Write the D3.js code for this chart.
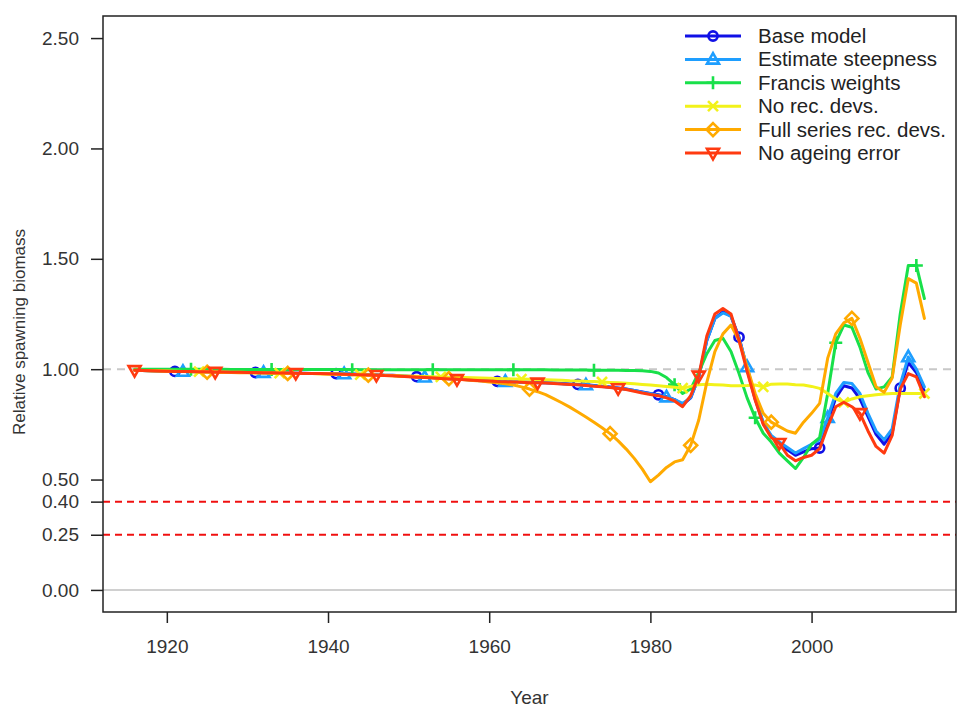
<!DOCTYPE html>
<html>
<head>
<meta charset="utf-8">
<script src="https://cdn.jsdelivr.net/npm/d3@7"></script>
<style>
  html, body { margin: 0; padding: 0; background: #fff; }
  svg { display: block; }
  text { font-family: "Liberation Sans", Arial, sans-serif; }
</style>
</head>
<body>
<svg id="chart" width="958" height="712"></svg>
<script>
// ---------------- DATA ----------------
const firstYear = 1916;
const lastYear = 2014;

const seriesNames = ["Base model", "Estimate steepness", "Francis weights",
  "No rec. devs.", "Full series rec. devs.", "No ageing error"];

const baseModel = [
  .995,.994,.993,.992,.991,.990,.989,.989,.988,.988,
  .987,.987,.986,.986,.985,.985,.984,.984,.983,.983,
  .982,.982,.981,.981,.980,.980,.979,.978,.977,.976,
  .975,.973,.972,.970,.968,.966,.964,.962,.960,.958,
  .956,.954,.951,.949,.947,.945,.944,.943,.942,.941,
  .940,.939,.937,.935,.933,.931,.929,.926,.923,.919,
  .915,.910,.904,.897,.890,.884,.875,.862,.840,.870,
  .965,1.13,1.23,1.26,1.24,1.145,1.00,.865,.755,.695,
  .665,.635,.61,.625,.64,.643,.76,.87,.925,.915,
  .865,.785,.705,.66,.71,.914,1.03,.985,.90];

const estimateSteepness = [
  .995,.994,.993,.992,.991,.990,.989,.989,.988,.988,
  .987,.987,.986,.986,.985,.985,.984,.984,.983,.983,
  .982,.981,.981,.980,.980,.979,.978,.977,.976,.975,
  .974,.972,.971,.969,.967,.965,.963,.961,.959,.957,
  .955,.953,.950,.948,.946,.944,.943,.942,.941,.940,
  .939,.938,.936,.934,.932,.930,.928,.925,.922,.918,
  .914,.909,.903,.896,.889,.882,.873,.862,.845,.872,
  .962,1.13,1.23,1.255,1.24,1.14,1.01,.87,.76,.70,
  .67,.645,.62,.64,.66,.68,.78,.89,.94,.935,
  .89,.80,.72,.68,.73,.93,1.055,1.0,.92];

const francisWeights = [
  1.000,1.000,1.000,1.000,1.000,1.000,1.000,1.000,1.000,1.000,
  1.000,1.000,.999,.999,.999,.999,.999,.999,.999,.999,
  .999,.999,.999,.999,.999,.999,.999,.998,.998,.998,
  .998,.998,.998,.998,.998,.998,.998,.998,.998,.998,
  .998,.998,.998,.997,.997,.997,.997,.997,.997,.997,
  .997,.997,.996,.996,.996,.996,.996,.995,.995,.995,
  .995,.994,.994,.993,.990,.983,.962,.930,.890,.910,
  .985,1.07,1.13,1.14,1.08,.98,.87,.78,.71,.67,
  .62,.585,.55,.60,.66,.69,.89,1.12,1.20,1.19,
  1.10,.985,.91,.92,.965,1.25,1.47,1.47,1.32];

const noRecDevs = [
  .995,.994,.993,.993,.992,.991,.990,.990,.989,.988,
  .988,.987,.986,.986,.985,.984,.984,.983,.982,.982,
  .981,.980,.980,.979,.978,.978,.977,.976,.975,.974,
  .973,.972,.971,.970,.969,.968,.967,.966,.965,.964,
  .963,.962,.961,.960,.959,.958,.957,.956,.955,.954,
  .953,.952,.951,.950,.948,.947,.945,.944,.942,.940,
  .938,.936,.934,.931,.928,.925,.922,.918,.914,.922,
  .930,.932,.930,.928,.925,.925,.926,.928,.920,.932,
  .933,.933,.930,.928,.922,.913,.890,.865,.850,.865,
  .875,.880,.884,.888,.890,.890,.890,.890,.890];

const fullSeriesRecDevs = [
  .995,.994,.993,.992,.991,.990,.989,.988,.987,.986,
  .986,.985,.985,.984,.984,.983,.983,.982,.982,.981,
  .981,.980,.980,.979,.978,.977,.976,.975,.974,.973,
  .972,.971,.970,.968,.967,.965,.963,.961,.959,.957,
  .955,.952,.949,.946,.942,.938,.934,.928,.920,.910,
  .898,.885,.867,.848,.828,.806,.783,.760,.735,.708,
  .675,.638,.596,.547,.490,.520,.555,.580,.590,.655,
  .77,.94,1.08,1.16,1.20,1.13,1.01,.89,.80,.76,
  .74,.72,.71,.76,.80,.845,1.05,1.16,1.21,1.23,
  1.14,1.03,.92,.895,.96,1.20,1.41,1.39,1.23];

const noAgeingError = [
  .995,.994,.993,.992,.991,.990,.989,.989,.988,.988,
  .987,.987,.986,.986,.985,.985,.984,.984,.983,.983,
  .982,.981,.981,.980,.979,.978,.977,.976,.975,.974,
  .973,.971,.970,.968,.966,.964,.962,.960,.958,.956,
  .954,.952,.950,.948,.946,.944,.943,.942,.941,.939,
  .938,.937,.935,.933,.931,.929,.926,.923,.920,.917,
  .913,.908,.900,.892,.885,.880,.870,.856,.830,.880,
  .970,1.15,1.25,1.275,1.25,1.13,.99,.86,.75,.69,
  .665,.61,.585,.60,.61,.64,.74,.83,.85,.83,
  .80,.72,.65,.62,.70,.91,.98,.965,.875];

// first year at which each series carries a point symbol (then every 10 years)
const markerStartYears = [1921, 1922, 1923, 1924, 1925, 1916];
const markerStep = 10;

const yTickValues = [0, 0.25, 0.4, 0.5, 1.0, 1.5, 2.0, 2.5];
const xTickValues = [1920, 1940, 1960, 1980, 2000];
const refLineRed = [0.4, 0.25];
const refLineGreyDashed = 1.0;
const refLineGreySolid = 0;

// ---------------- STYLE ----------------
const colors = ["#1010E6", "#1E9EFF", "#18E04A", "#F2F21A", "#FFAA00", "#FF3A10"];
const shapes = ["circle", "triUp", "plus", "cross", "diamond", "triDown"];

// ---------------- BUILD ----------------
(function () {
const years = d3.range(firstYear, lastYear + 1);
const allValues = [baseModel, estimateSteepness, francisWeights, noRecDevs, fullSeriesRecDevs, noAgeingError];
const series = seriesNames.map((name, i) => ({
  name, color: colors[i], shape: shapes[i],
  values: years.map((yr, j) => ({ year: yr, value: allValues[i][j] })),
  markerStart: markerStartYears[i]
}));

const svg = d3.select("#chart");
const pLeft = 103, pRight = 956, pTop = 16, pBottom = 612;

const xPad = (lastYear - firstYear) * 0.04;
const x = d3.scaleLinear().domain([firstYear - xPad, lastYear + xPad]).range([pLeft, pRight]);
const y = d3.scaleLinear().domain([-0.1, 2.6]).range([pBottom, pTop]);

// reference lines
svg.append("line")
  .attr("x1", pLeft).attr("x2", pRight)
  .attr("y1", y(refLineGreySolid)).attr("y2", y(refLineGreySolid))
  .attr("stroke", "#c0c0c0").attr("stroke-width", 1.5);
svg.append("line")
  .attr("x1", pLeft).attr("x2", pRight)
  .attr("y1", y(refLineGreyDashed)).attr("y2", y(refLineGreyDashed))
  .attr("stroke", "#c8c8c8").attr("stroke-width", 2).attr("stroke-dasharray", "8,6");
refLineRed.forEach(v => {
  svg.append("line")
    .attr("x1", pLeft).attr("x2", pRight)
    .attr("y1", y(v)).attr("y2", y(v))
    .attr("stroke", "#F01010").attr("stroke-width", 2).attr("stroke-dasharray", "7,5");
});

// axes
const axisColor = "#222";
const yAxis = svg.append("g").attr("transform", `translate(${pLeft},0)`)
  .call(d3.axisLeft(y).tickValues(yTickValues).tickFormat(d3.format(".2f")).tickSizeOuter(0).tickSize(12).tickPadding(12));
yAxis.select(".domain").remove();
const xAxis = svg.append("g").attr("transform", `translate(0,${pBottom})`)
  .call(d3.axisBottom(x).tickValues(xTickValues).tickFormat(d3.format("d")).tickSizeOuter(0).tickSize(11).tickPadding(17));
xAxis.select(".domain").remove();
[yAxis, xAxis].forEach(g => {
  g.selectAll("line").attr("stroke", axisColor).attr("stroke-width", 1.5);
  g.selectAll("text").attr("fill", "#333").style("font-size", "19px")
    .style("font-family", "'Liberation Sans', Arial, sans-serif");
});

// box
svg.append("rect")
  .attr("x", pLeft).attr("y", pTop).attr("width", pRight - pLeft).attr("height", pBottom - pTop)
  .attr("fill", "none").attr("stroke", axisColor).attr("stroke-width", 1.5);

// axis titles
svg.append("text")
  .attr("x", (pLeft + pRight) / 2).attr("y", 704)
  .attr("text-anchor", "middle").attr("fill", "#333").style("font-size", "19px")
  .text("Year");
svg.append("text")
  .attr("transform", `translate(25,332) rotate(-90)`)
  .attr("text-anchor", "middle").attr("fill", "#333").style("font-size", "17px")
  .text("Relative spawning biomass");

// symbols
function symbolPath(shape) {
  switch (shape) {
    case "circle": { const r = 4.6; return `M${-r},0A${r},${r} 0 1,0 ${r},0A${r},${r} 0 1,0 ${-r},0Z`; }
    case "triUp": { const s = 6; return `M0,${-s * 1.05}L${s},${s * 0.7}L${-s},${s * 0.7}Z`; }
    case "triDown": { const s = 6; return `M0,${s * 1.05}L${s},${-s * 0.7}L${-s},${-s * 0.7}Z`; }
    case "plus": { const s = 6.5; return `M${-s},0H${s}M0,${-s}V${s}`; }
    case "cross": { const s = 5; return `M${-s},${-s}L${s},${s}M${-s},${s}L${s},${-s}`; }
    case "diamond": { const s = 6.5; return `M0,${-s}L${s},0L0,${s}L${-s},0Z`; }
  }
}

const line = d3.line().x(d => x(d.year)).y(d => y(d.value));
series.forEach(s => {
  const g = svg.append("g");
  g.append("path").datum(s.values)
    .attr("d", line).attr("fill", "none")
    .attr("stroke", s.color).attr("stroke-width", 3)
    .attr("stroke-linejoin", "round").attr("stroke-linecap", "round");
  const pts = s.values.filter(d => d.year >= s.markerStart && (d.year - s.markerStart) % markerStep === 0);
  g.selectAll("path.mk").data(pts).enter().append("path")
    .attr("class", "mk")
    .attr("transform", d => `translate(${x(d.year)},${y(d.value)})`)
    .attr("d", symbolPath(s.shape))
    .attr("fill", "none").attr("stroke", s.color).attr("stroke-width", 2.6);
});

// legend
const lg = svg.append("g");
const legendTop = 36, legendStep = 23.4;
series.forEach((s, i) => {
  const yy = legendTop + i * legendStep;
  lg.append("line").attr("x1", 685).attr("x2", 741).attr("y1", yy).attr("y2", yy)
    .attr("stroke", s.color).attr("stroke-width", 3);
  lg.append("path").attr("transform", `translate(713,${yy})`)
    .attr("d", symbolPath(s.shape)).attr("fill", "none")
    .attr("stroke", s.color).attr("stroke-width", 2.6);
  lg.append("text").attr("x", 758).attr("y", yy + 7)
    .attr("fill", "#222").style("font-size", "20.5px").text(s.name);
});
})();
</script>
</body>
</html>
